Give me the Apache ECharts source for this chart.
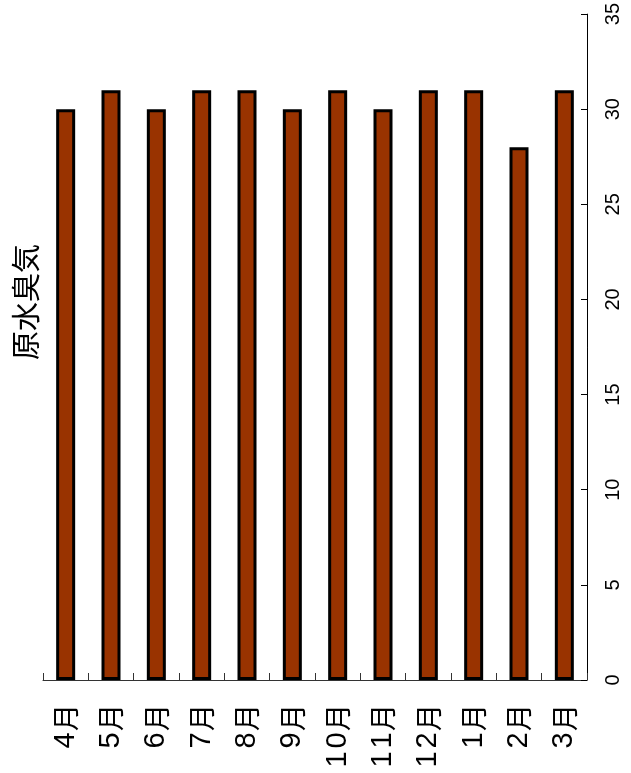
<!DOCTYPE html>
<html><head><meta charset="utf-8">
<script src="https://cdn.jsdelivr.net/npm/echarts@6/dist/echarts.min.js"></script>
<style>html,body{margin:0;padding:0;background:#fff}#c{width:631px;height:773px}</style>
</head><body><div id="c"></div>
<script>
const categories = ['4月','5月','6月','7月','8月','9月','10月','11月','12月','1月','2月','3月'];
const values = [30,31,30,31,31,30,31,30,31,31,28,31];
const valueTicks = ['0','5','10','15','20','25','30','35'];
const titleText = '原水臭気';

const chart = echarts.init(document.getElementById('c'), null, {renderer:'canvas'});
const font = '"Liberation Sans", "Noto Sans CJK JP", sans-serif';
function catLabel(s){
  return s.split('').map(ch => /[0-9]/.test(ch) ? '{d|' + ch + '}' : '{m|' + ch + '}').join('');
}
chart.setOption({
  animation:false,
  backgroundColor:'#fff',
  grid:{left:43,right:44,top:14,bottom:93,containLabel:false},
  graphic:[{
    type:'text', x:26, y:302, rotation:Math.PI/2,
    style:{text:titleText, font:'29px "Noto Sans CJK JP", sans-serif', fill:'#000', textAlign:'center', textVerticalAlign:'middle'}
  }],
  xAxis:{
    type:'category', data:categories,
    axisLine:{show:true,lineStyle:{color:'#333',width:1}},
    axisTick:{show:true,inside:true,length:7,alignWithLabel:false,lineStyle:{color:'#333'}},
    axisLabel:{rotate:90,margin:24,color:'#000',interval:0,
      formatter:catLabel,
      rich:{
        d:{fontSize:29,fontFamily:'"Liberation Sans", sans-serif',width:19,align:'center',color:'#000'},
        m:{fontSize:27,fontFamily:'"Noto Sans CJK JP", sans-serif',color:'#000'}
      }},
    splitLine:{show:false}
  },
  yAxis:{
    type:'value', position:'right', min:0, max:35, interval:5,
    axisLine:{show:true,lineStyle:{color:'#000',width:1}},
    axisTick:{show:true,inside:true,length:6,lineStyle:{color:'#000'}},
    axisLabel:{rotate:90,margin:16,fontSize:20,color:'#000',fontFamily:font,
      formatter:(v)=>valueTicks[Math.round(v/5)]},
    splitLine:{show:false}
  },
  series:[{
    type:'bar', data:values, barWidth:19,
    itemStyle:{color:'#993300',borderColor:'#000',borderWidth:3}
  }]
});
</script></body></html>
